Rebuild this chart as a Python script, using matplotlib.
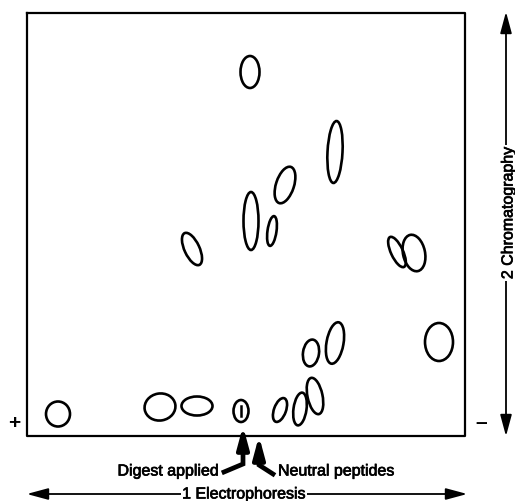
import matplotlib.pyplot as plt
import matplotlib.patheffects as pe
from matplotlib.patches import Ellipse

plt.rcParams['font.family'] = ['Liberation Sans', 'DejaVu Sans']

# peptide spots, in pixel-like map units (x right, y down)
spot_x = [250, 335, 285, 251, 272, 192, 397, 414, 439, 335, 311, 315, 300, 280, 58, 160, 197, 241]
spot_y = [73, 153, 186, 222, 232, 250, 253, 254, 343, 344, 354, 397, 410, 411, 415, 408, 407, 412]
spot_w = [19, 15, 18, 15, 9, 15, 12, 22, 28, 17, 16, 15, 13, 12, 24, 31, 31, 15]
spot_h = [32, 62, 38, 58, 30, 35, 33, 37, 38, 42, 27, 37, 33, 25, 25, 27, 19, 22]
spot_tilt = [0, 3, 18, 0, 8, -25, -25, -12, 0, 10, 8, -12, 8, 20, 0, -10, 0, 0]

origin_x = 243
neutral_x = 259
box = (27, 14, 465, 437)  # left, top, right, bottom

fig = plt.figure(figsize=(5.15, 5.02), dpi=100)
ax = fig.add_axes([0, 0, 1, 1])
ax.set_xlim(0, 515)
ax.set_ylim(502, 0)
ax.axis('off')

bold_ink = [pe.withStroke(linewidth=0.5, foreground='black')]
fs = 11.5

l, t, r, b = box
ax.plot([l, r, r, l, l], [t, t, b, b, t], color='black', lw=1.6)

for x, y, w, h, a in zip(spot_x, spot_y, spot_w, spot_h, spot_tilt):
    ax.add_patch(Ellipse((x, y), w, h, angle=a, fill=False, ec='black', lw=1.9))
# mark inside the origin spot
ax.plot([origin_x - 2, origin_x - 2], [407, 417], color='black', lw=1.8)

# polarity signs
ax.text(14, 424, '+', fontsize=15, fontweight='bold', ha='center', va='center')
ax.text(481, 423, '\u2013', fontsize=15, fontweight='bold', ha='center', va='center')

arrow_head = dict(arrowstyle='-|>,head_length=1.3,head_width=0.35', color='black', lw=3.2,
                  shrinkA=0, shrinkB=0)

# digest applied arrow
ax.plot([224, origin_x, origin_x], [473, 465, 440], color='black', lw=3.4, solid_joinstyle='miter')
ax.annotate('', xy=(origin_x, 427), xytext=(origin_x, 450), arrowprops=arrow_head)
ax.text(219, 472, 'Digest applied', fontsize=fs, ha='right', va='center', path_effects=bold_ink)

# neutral peptides arrow
ax.plot([273, neutral_x, neutral_x], [475, 466, 450], color='black', lw=3.4, solid_joinstyle='miter')
ax.annotate('', xy=(neutral_x, 437), xytext=(neutral_x, 460), arrowprops=arrow_head)
ax.text(278, 472, 'Neutral peptides', fontsize=fs, ha='left', va='center', path_effects=bold_ink)

# first dimension
ax.annotate('', xy=(24, 495), xytext=(470, 495),
            arrowprops=dict(arrowstyle='<|-|>,head_length=1.3,head_width=0.35', color='black', lw=1.3))
ax.text(244, 495, '1 Electrophoresis', fontsize=fs, ha='center', va='center', path_effects=bold_ink,
        bbox=dict(facecolor='white', edgecolor='none', pad=1))

# second dimension
ax.annotate('', xy=(506, 10), xytext=(506, 440),
            arrowprops=dict(arrowstyle='<|-|>,head_length=1.3,head_width=0.35', color='black', lw=1.3))
ax.text(508, 214, '2 Chromatography', fontsize=fs, rotation=90, ha='center', va='center',
        path_effects=bold_ink, bbox=dict(facecolor='white', edgecolor='none', pad=1))

fig.savefig('out.png', dpi=100)
